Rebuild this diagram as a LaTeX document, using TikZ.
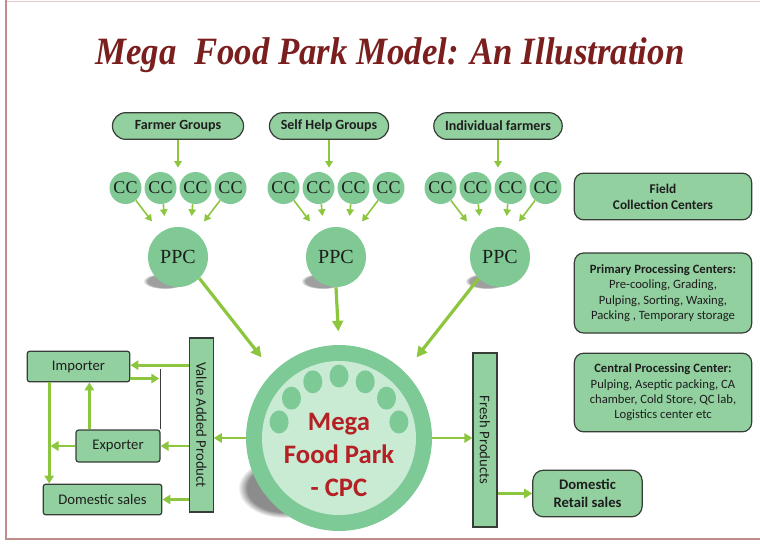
\documentclass[tikz,border=0pt]{standalone}
\usepackage{fontspec}
\setmainfont{Liberation Serif}
\setsansfont{Carlito}
\newfontfamily\titlefont[FakeStretch=0.9]{Liberation Serif}
\usetikzlibrary{positioning,arrows.meta,shapes.misc,calc,fadings}
\definecolor{boxgreen}{RGB}{146,208,160}
\definecolor{ccgreen}{RGB}{128,200,148}
\definecolor{ringgreen}{RGB}{126,202,150}
\definecolor{innergreen}{RGB}{201,234,211}
\definecolor{arrowgreen}{RGB}{140,198,63}
\definecolor{titlered}{RGB}{122,30,30}
\definecolor{cpcred}{RGB}{180,32,36}
\definecolor{framepink}{RGB}{192,140,140}
\definecolor{edgegray}{RGB}{55,62,55}
\definecolor{textdark}{RGB}{30,30,30}
\begin{document}
\begin{tikzpicture}[x=0.75pt,y=-0.75pt,
  pill/.style={rounded rectangle,draw=edgegray,line width=0.9pt,fill=boxgreen,text=textdark,
    font=\sffamily\bfseries\fontsize{10.5}{12}\selectfont,minimum height=20pt},
  cc/.style={circle,fill=ccgreen,minimum size=24pt,inner sep=0pt,text=textdark,font=\fontsize{13.5}{14}\selectfont},
  ppc/.style={circle,fill=ccgreen,minimum size=45pt,inner sep=0pt,text=textdark,font=\fontsize{15}{16}\selectfont},
  infobox/.style={draw=edgegray,line width=0.9pt,fill=boxgreen,rounded corners=7pt,align=center,text=textdark,
    font=\sffamily\fontsize{9.5}{11.5}\selectfont,minimum width=133pt},
  sidebox/.style={draw=edgegray,line width=0.9pt,fill=boxgreen,rounded corners=2pt,text=textdark,
    font=\sffamily\fontsize{11}{13}\selectfont,minimum height=23pt,inner sep=0pt},
  barbox/.style={draw=edgegray,line width=0.9pt,fill=boxgreen,rotate=-90,minimum width=130.5pt,
    minimum height=17.5pt,inner sep=0pt,text=textdark,font=\sffamily\fontsize{11}{13}\selectfont},
  thinarrow/.style={draw=arrowgreen,line width=1.2pt,-{Triangle[length=5pt,width=5.5pt]}},
  bigarrow/.style={draw=arrowgreen,line width=2.4pt,-{Triangle[length=8pt,width=8pt]}},
  midarrow/.style={draw=arrowgreen,line width=2pt,-{Triangle[length=6pt,width=7pt]}}]
\useasboundingbox (0,0) rectangle (760,544);
\draw[framepink!45,line width=1pt] (6,1.5) -- (760,1.5);
\draw[framepink,line width=1.5pt] (6,0) -- (6,539) -- (760,539);

\node[font=\titlefont\bfseries\itshape\fontsize{29}{32}\selectfont,text=titlered] (title) at (390,55)
  {Mega\ \ Food Park Model: An Illustration};

\node[pill,minimum width=105pt] (fg) at (178,126) {Farmer Groups};
\node[pill,minimum width=96pt] (shg) at (329,126) {Self Help Groups};
\node[pill,minimum width=103pt] (ind) at (498,126) {Individual farmers};

\foreach \g/\c/\p in {1/178/178,2/336/336,3/493/500}{
  \foreach \i/\dx in {1/-52.5,2/-17.5,3/17.5,4/52.5}
    \node[cc] (cc\g\i) at (\c+\dx,188) {CC};
  \fill[gray!75,path fading=circle with fuzzy edge 20 percent] (\p-13,281) ellipse (22 and 8);
  \node[ppc] (ppc\g) at (\p,257) {PPC};
  \draw[thinarrow] (cc\g1.-50) -- ++(16,21);
  \draw[thinarrow] (cc\g2.-80) -- ++(1,12);
  \draw[thinarrow] (cc\g3.-100) -- ++(-1,12);
  \draw[thinarrow] (cc\g4.-130) -- ++(-16,21);
}
\draw[thinarrow,shorten >=3pt] (fg.south) -- (fg.south |- cc12.north);
\draw[thinarrow,shorten >=3pt] (shg.south) -- (shg.south |- cc22.north);
\draw[thinarrow,shorten >=3pt] (ind.south) -- (ind.south |- cc32.north);

\fill[gray!90,path fading=circle with fuzzy edge 20 percent] (284,488) ellipse (46 and 30);
\node[circle,fill=ringgreen,minimum size=139.5pt,inner sep=0pt] (cpc) at (339,438) {};
\fill[innergreen] (cpc) circle (77);
\foreach \a in {15,40,...,165}
  \fill[ringgreen] ($(cpc)+(-\a:62)$) ellipse (9.5 and 11.5);
\node[font=\sffamily\bfseries\fontsize{20}{25}\selectfont,text=cpcred,align=center] (cpclabel) at (339,455)
  {Mega\\Food Park\\- CPC};

\draw[bigarrow,shorten >=14pt] (ppc1.-45) -- (cpc.135);
\draw[bigarrow,shorten >=10pt] (ppc2.south) -- (cpc.north);
\draw[bigarrow,shorten >=14pt] (ppc3.-135) -- (cpc.45);

\node[infobox,font=\sffamily\bfseries\fontsize{10}{12}\selectfont,minimum height=35pt] (fcc) at (663,196.5)
  {Field\\Collection Centers};
\node[infobox,minimum height=60pt] (prim) at (663,293)
  {\textbf{Primary Processing Centers:}\\Pre-cooling, Grading,\\Pulping, Sorting, Waxing,\\Packing , Temporary storage};
\node[infobox,minimum height=59pt] (cent) at (663,392.5)
  {\textbf{Central Processing Center:}\\Pulping, Aseptic packing, CA\\chamber, Cold Store, QC lab,\\Logistics center etc};

\node[barbox] (vap) at (201.5,425) {Value Added Product};
\node[barbox,minimum height=18pt] (fp) at (485,440) {Fresh Products};
\node[sidebox,minimum width=77pt] (imp) at (78.5,366.5) {Importer};
\node[sidebox,minimum width=63pt,minimum height=24pt] (exp) at (118,446) {Exporter};
\node[sidebox,minimum width=89pt] (ds) at (102.5,499.5) {Domestic sales};
\node[infobox,font=\sffamily\bfseries\fontsize{11}{13}\selectfont,minimum width=82pt,minimum height=35pt,
  rounded corners=8pt] (ret) at (587.5,493.5) {Domestic\\Retail sales};

\draw[midarrow] (cpc.west) -- (vap.north |- cpc.west);
\draw[midarrow] (cpc.east) -- (fp.south |- cpc.east);
\draw[midarrow] (fp.north |- ret) -- (ret.west);

\coordinate (drop) at ([xshift=-22pt]imp.south);
\draw[edgegray,line width=0.9pt] (exp.north east) -- ([yshift=-2pt]exp.north east |- imp.center);
\draw[midarrow] ([yshift=1pt]vap.south |- imp) -- ([yshift=1pt]imp.east);
\draw[midarrow,shorten >=1pt] ([yshift=-9pt]imp.east) -- ([yshift=-9pt]imp.east -| exp.north east);
\draw[midarrow] (vap.south |- exp) -- (exp.east);
\draw[midarrow] ([xshift=-21.5pt]exp.north) -- ([xshift=-21.5pt]exp.north |- imp.south);
\draw[midarrow] (drop) -- (drop |- ds.north);
\draw[midarrow,shorten >=1pt] (exp.west) -- (exp.west -| drop);
\draw[midarrow] (vap.south |- ds) -- (ds.east);
\end{tikzpicture}
\end{document}
